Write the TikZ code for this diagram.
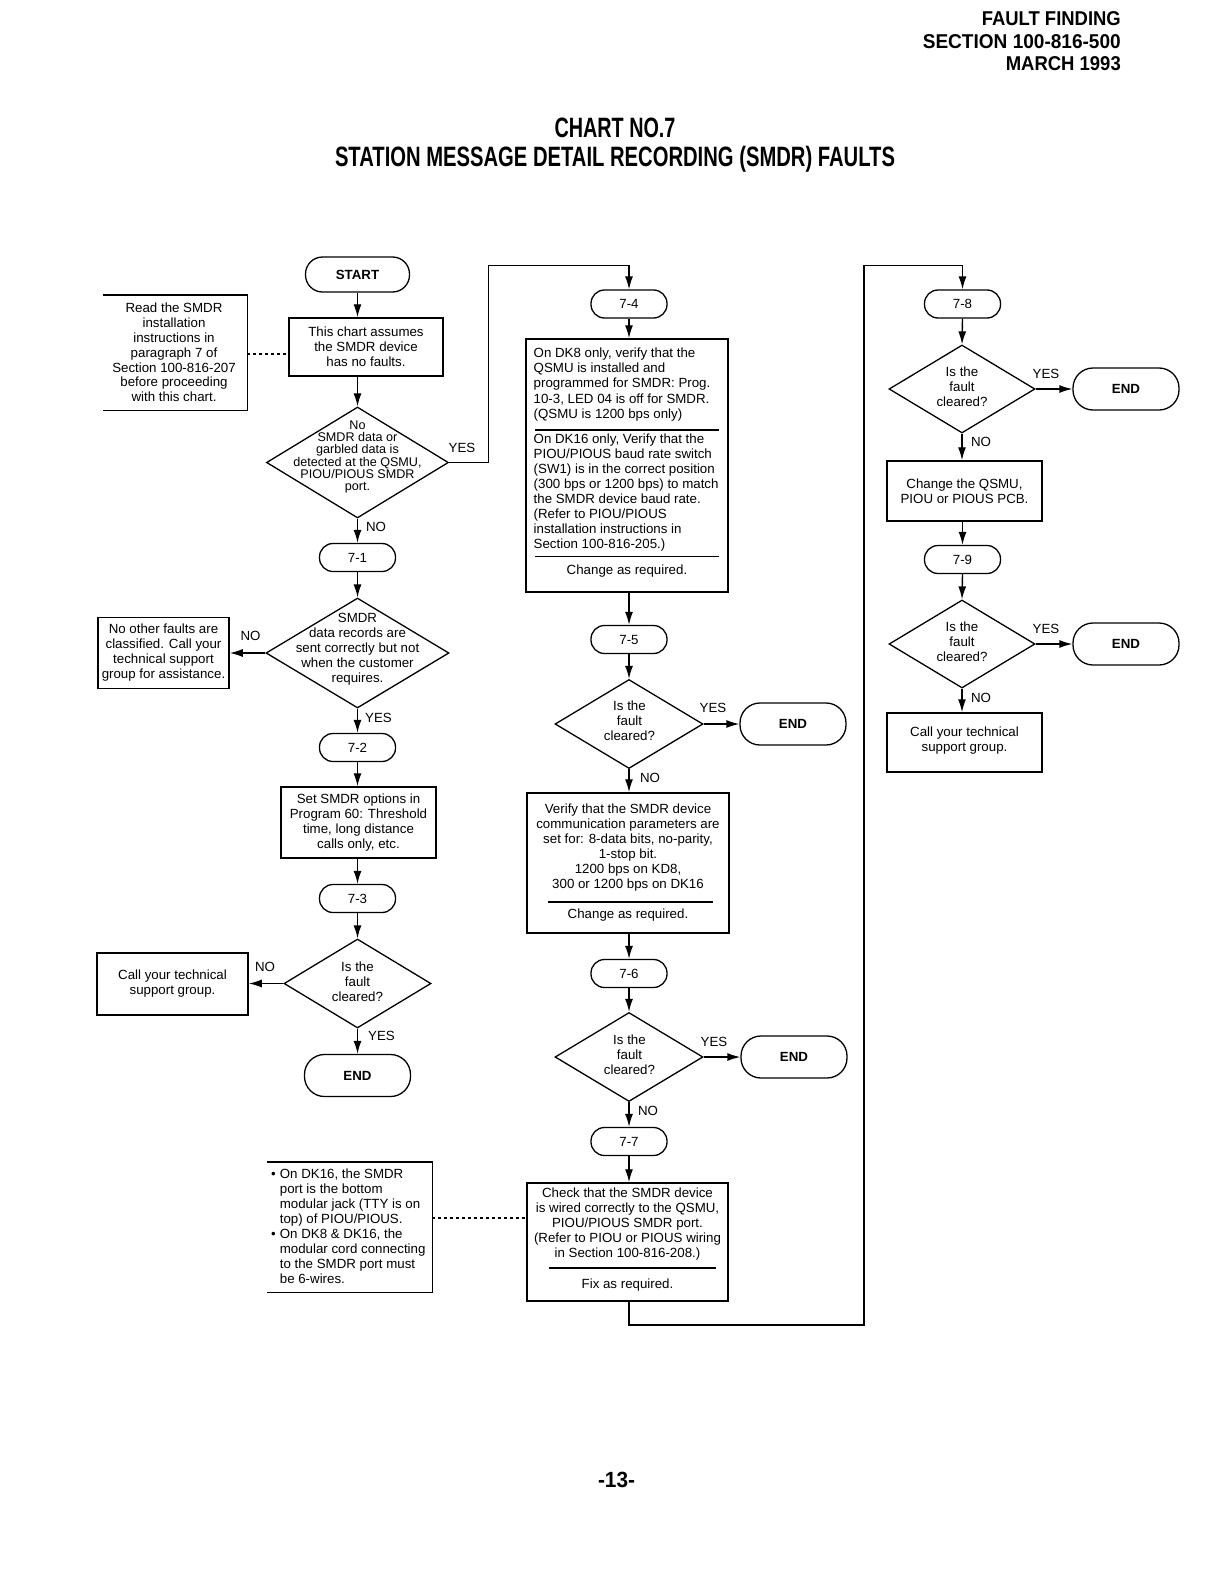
\documentclass[tikz,border=0pt]{standalone}
\usepackage{fontspec}
\setmainfont{Liberation Sans}
\usetikzlibrary{shapes.geometric,arrows.meta,calc}
\newcommand{\fitw}[3]{\resizebox{#1}{\height}{\bfseries\fontsize{#2}{#2}\selectfont #3}}
\begin{document}
\begin{tikzpicture}[x=1pt,y=-1pt,
  ln/.style={line width=1.4pt},
  arr/.style={line width=1.4pt,-{Latex[length=13pt,width=8pt]}},
  term/.style={draw,line width=1.3pt,rounded corners=13.5pt,minimum width=76pt,minimum height=28pt,inner sep=0pt,font=\fontsize{13.3}{15}\selectfont},
  endterm/.style={draw,line width=1.3pt,rounded corners=20pt,minimum width=106pt,minimum height=42pt,inner sep=0pt,font=\bfseries\fontsize{13.3}{15}\selectfont},
  box/.style={draw,line width=1.5pt,inner sep=0pt,align=center,font=\fontsize{13.3}{15}\selectfont},
  dia/.style={draw,diamond,line width=1.3pt,inner sep=0pt},
  txt/.style={align=center,inner sep=0pt,font=\fontsize{13.3}{15}\selectfont},
  ltxt/.style={align=left,inner sep=0pt,anchor=west,font=\fontsize{13.3}{15.2}\selectfont},
  lbl/.style={inner sep=0pt,font=\fontsize{13.3}{15}\selectfont},
  notebox/.style={inner sep=0pt},
  dots/.style={line width=1.2pt,dash pattern=on 3pt off 3pt}]
\useasboundingbox (0,0) rectangle (1221,1584);
\fill[white] (0,0) rectangle (1221,1584);

% header
\node[anchor=base east,inner sep=0pt] (h1) at (1121,26) {\fitw{139pt}{20}{FAULT FINDING}};
\node[anchor=base east,inner sep=0pt] (h2) at (1121,48.5) {\fitw{198pt}{20}{SECTION 100-816-500}};
\node[anchor=base east,inner sep=0pt] (h3) at (1121,71) {\fitw{115pt}{20}{MARCH 1993}};
\node[anchor=base,inner sep=0pt] (t1) at (615,138) {\fitw{121pt}{28}{CHART NO.7}};
\node[anchor=base,inner sep=0pt] (t2) at (615,166.5) {\fitw{560pt}{28}{STATION MESSAGE DETAIL RECORDING (SMDR) FAULTS}};
\node[anchor=base,inner sep=0pt] (pg) at (616.5,1487) {\fitw{37pt}{22}{-13-}};

% ---------- column 1 ----------
\node[term,minimum width=104pt,minimum height=35pt,rounded corners=17pt,font=\bfseries\fontsize{13.3}{15}\selectfont] (start) at (357.5,274.5) {START};
\node[box,minimum width=154pt,minimum height=58pt] (assume) at (366,347) {This chart assumes\\the SMDR device\\has no faults.};
\node[notebox,minimum width=144pt,minimum height=115pt] (rd) at (175,352.5) {};
\draw[ln] (rd.north west) -- (rd.north east) -- (rd.south east) -- (rd.south west);
\node[txt,font=\fontsize{13.3}{14.8}\selectfont] (rdt) at (174,352.5) {Read the SMDR\\installation\\instructions in\\paragraph 7 of\\Section 100-816-207\\before proceeding\\with this chart.};
\coordinate (dl1) at (0,354);
\draw[dots] (rd.east |- dl1) -- (assume.west |- dl1);

\node[dia,minimum width=182pt,minimum height=111pt] (d1) at (357.5,462.5) {};
\node[txt,font=\fontsize{12.6}{12.2}\selectfont] (d1t) at (357.5,457) {No\\SMDR data or\\garbled data is\\detected at the QSMU,\\PIOU/PIOUS SMDR\\port.};
\node[term] (t71) at (357.5,557.5) {7-1};
\node[dia,minimum width=183pt,minimum height=110pt] (d2) at (357.5,653) {};
\node[txt] (d2t) at (357.5,649) {SMDR\\data records are\\sent correctly but not\\when the customer\\requires.};
\node[box,minimum width=131pt,minimum height=71pt] (nob) at (163.5,653) {No other faults are\\classified. Call your\\technical support\\group for assistance.};
\node[term] (t72) at (357.5,747.5) {7-2};
\node[box,minimum width=155pt,minimum height=71pt] (setb) at (358.5,822.5) {Set SMDR options in\\Program 60: Threshold\\time, long distance\\calls only, etc.};
\node[term] (t73) at (357.5,898.5) {7-3};
\node[dia,minimum width=147pt,minimum height=89pt] (d3) at (357.5,983.5) {};
\node[txt] (d3t) at (357.5,982) {Is the\\fault\\cleared?};
\node[box,minimum width=151pt,minimum height=62pt] (call3) at (172.5,984) {Call your technical\\support group.};
\node[endterm] (end3) at (357.5,1075.5) {END};

\draw[arr] (start.south) -- (start.south |- assume.north);
\draw[arr] (start.south |- assume.south) -- (d1.north);
\draw[arr] (d1.south) -- (t71.north);
\draw[arr] (t71.south) -- (d2.north);
\draw[arr] (d2.west) -- (d2.west -| nob.east);
\draw[arr] (d2.south) -- (t72.north);
\draw[arr] (t72.south) -- (t72.south |- setb.north);
\draw[arr] (t73.north |- setb.south) -- (t73.north);
\draw[arr] (t73.south) -- (d3.north);
\draw[arr] (d3.west) -- (d3.west -| call3.east);
\draw[arr] (d3.south) -- (end3.north);
\node[lbl] (l1y) at (462,448) {YES};
\node[lbl] (l1n) at (376,527) {NO};
\node[lbl] (l2n) at (250.5,636) {NO};
\node[lbl] (l2y) at (378.5,718) {YES};
\node[lbl] (l3n) at (265,966.5) {NO};
\node[lbl] (l3y) at (381.5,1036) {YES};

% bottom note
\node[notebox,minimum width=165pt,minimum height=130pt] (n2) at (349.5,1227) {};
\draw[ln] (n2.north west) -- (n2.north east) -- (n2.south east) -- (n2.south west);
\node[anchor=west,inner sep=0pt,font=\fontsize{13.3}{15}\selectfont] (n2t) at (271,1227.5) {%
\begin{tabular}{@{}l@{\hspace{4pt}}l@{}}
\textbullet & On DK16, the SMDR\\
 & port is the bottom\\
 & modular jack (TTY is on\\
 & top) of PIOU/PIOUS.\\
\textbullet & On DK8 \& DK16, the\\
 & modular cord connecting\\
 & to the SMDR port must\\
 & be 6-wires.
\end{tabular}};

% ---------- column 2 ----------
\node[term] (t74) at (629,304) {7-4};
\node[box,minimum width=202pt,minimum height=253pt] (big) at (627,465.5) {};
\node[ltxt] (bt1) at (533.5,384.5) {On DK8 only, verify that the\\QSMU is installed and\\programmed for SMDR: Prog.\\10-3, LED 04 is off for SMDR.\\(QSMU is 1200 bps only)};
\draw[ln] (535,430) -- (719,430);
\node[ltxt,font=\fontsize{13.3}{15}\selectfont] (bt2) at (533.5,492.5) {On DK16 only, Verify that the\\PIOU/PIOUS baud rate switch\\(SW1) is in the correct position\\(300 bps or 1200 bps) to match\\the SMDR device baud rate.\\(Refer to PIOU/PIOUS\\installation instructions in\\Section 100-816-205.)};
\draw[ln] (535,556.5) -- (719,556.5);
\node[txt] (bt3) at (627,571.5) {Change as required.};

\node[term] (t75) at (629,639.5) {7-5};
\node[dia,minimum width=148pt,minimum height=89pt] (d5) at (629,724) {};
\node[txt] (d5t) at (629.5,721) {Is the\\fault\\cleared?};
\node[endterm] (end5) at (793,724) {END};
\node[box,minimum width=202pt,minimum height=140pt] (ver) at (628,863) {};
\node[txt] (vt1) at (628,848) {Verify that the SMDR device\\communication parameters are\\set for: 8-data bits, no-parity,\\1-stop bit.\\1200 bps on KD8,\\300 or 1200 bps on DK16};
\draw[ln] (548,902) -- (713,902);
\node[txt] (vt2) at (628,915.5) {Change as required.};
\node[term] (t76) at (629,973.5) {7-6};
\node[dia,minimum width=148pt,minimum height=89pt] (d6) at (629,1057) {};
\node[txt] (d6t) at (629.5,1055) {Is the\\fault\\cleared?};
\node[endterm] (end6) at (794,1057) {END};
\node[term] (t77) at (629,1141.5) {7-7};
\node[box,minimum width=201pt,minimum height=118pt] (chk) at (627.5,1242) {};
\node[txt] (ct1) at (627.5,1224.5) {Check that the SMDR device\\is wired correctly to the QSMU,\\PIOU/PIOUS SMDR port.\\(Refer to PIOU or PIOUS wiring\\in Section 100-816-208.)};
\draw[ln] (549,1268) -- (716,1268);
\node[txt] (ct2) at (627.5,1285) {Fix as required.};
\coordinate (dl2) at (0,1218);
\draw[dots] (n2.east |- dl2) -- (chk.west |- dl2);

\coordinate (c1) at (488.5,265.5);
\draw[arr] (d1.east) -| (c1) -| (t74.north);
\draw[arr] (t74.south) -- (t74.south |- big.north);
\draw[arr] (t75.north |- big.south) -- (t75.north);
\draw[arr] (t75.south) -- (d5.north);
\draw[arr] (d5.east) -- (end5.west);
\draw[arr] (d5.south) -- (d5.south |- ver.north);
\draw[arr] (t76.north |- ver.south) -- (t76.north);
\draw[arr] (t76.south) -- (d6.north);
\draw[arr] (d6.east) -- (end6.west);
\draw[arr] (d6.south) -- (t77.north);
\draw[arr] (t77.south) -- (t77.south |- chk.north);
\node[lbl] (l5y) at (713,708) {YES};
\node[lbl] (l5n) at (650,777.5) {NO};
\node[lbl] (l6y) at (714,1042) {YES};
\node[lbl] (l6n) at (648,1111) {NO};

% ---------- column 3 ----------
\node[term] (t78) at (962.5,304) {7-8};
\node[dia,minimum width=146pt,minimum height=88pt] (d8) at (962,389) {};
\node[txt] (d8t) at (962,386.5) {Is the\\fault\\cleared?};
\node[endterm] (end8) at (1126,389) {END};
\node[box,minimum width=155pt,minimum height=60pt] (chg) at (964.5,491) {Change the QSMU,\\PIOU or PIOUS PCB.};
\node[term] (t79) at (962.5,559.5) {7-9};
\node[dia,minimum width=146pt,minimum height=88pt] (d9) at (962,644) {};
\node[txt] (d9t) at (962,642) {Is the\\fault\\cleared?};
\node[endterm] (end9) at (1126,644) {END};
\node[box,minimum width=155pt,minimum height=59pt] (call9) at (964.5,742.5) {};
\node[txt] (c9t) at (964.5,740.5) {Call your technical\\support group.};

\coordinate (c2) at (629,1325);
\coordinate (c3) at (864,265.5);
\draw[arr] (c2 |- chk.south) -- (c2) -| (c3) -| (t78.north);
\draw[arr] (t78.south) -- (d8.north);
\draw[arr] (d8.east) -- (end8.west);
\draw[arr] (d8.south) -- (d8.south |- chg.north);
\draw[arr] (t79.north |- chg.south) -- (t79.north);
\draw[arr] (t79.south) -- (d9.north);
\draw[arr] (d9.east) -- (end9.west);
\draw[arr] (d9.south) -- (d9.south |- call9.north);
\node[lbl] (l8y) at (1046,374) {YES};
\node[lbl] (l8n) at (981,442) {NO};
\node[lbl] (l9y) at (1046,629) {YES};
\node[lbl] (l9n) at (981,698) {NO};
\end{tikzpicture}
\end{document}
